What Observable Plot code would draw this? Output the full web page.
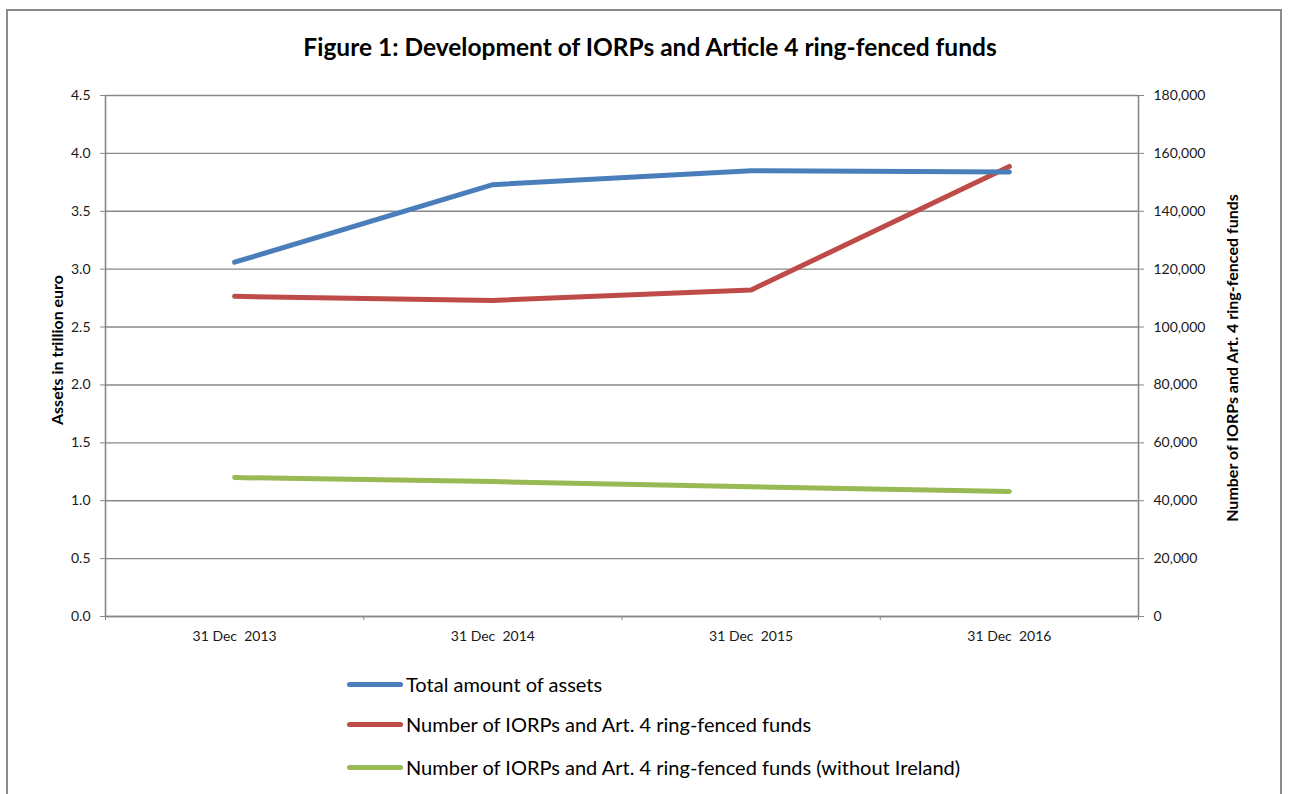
<!DOCTYPE html>
<html>
<head>
<meta charset="utf-8">
<script src="https://cdn.jsdelivr.net/npm/d3@7"></script>
<script src="https://cdn.jsdelivr.net/npm/@observablehq/plot@0.6"></script>
<style>
  html, body { margin: 0; padding: 0; background: #fff; }
  body { font-family: Lato, "Open Sans", sans-serif; }
  #wrap { position: relative; width: 1290px; height: 794px; overflow: hidden; }
  #frame { position: absolute; left: 6px; top: 9px; width: 1276px; height: 800px; border: 2px solid #8c8c8c; box-sizing: border-box; }
  #title { position: absolute; left: 0; top: 32px; width: 1300px; text-align: center; font-weight: bold; font-size: 24.5px; line-height: 30px; color: #000; }
  #chart { position: absolute; left: 0; top: 0; }
  .ylab { position: absolute; font-weight: bold; font-size: 16px; white-space: nowrap; transform: translate(-50%, -50%) rotate(-90deg); color: #000; }
  .leg { position: absolute; left: 347px; height: 24px; display: flex; align-items: center; font-size: 20px; color: #000; white-space: nowrap; }
  .sw { width: 56px; height: 5px; border-radius: 3px; margin-right: 3px; }
</style>
</head>
<body>
<div id="wrap">
  <div id="frame"></div>
  <div id="title">Figure 1: Development of IORPs and Article 4 ring-fenced funds</div>
  <div id="chart"></div>
  <div class="ylab" style="left:56px; top:350px;">Assets in trillion euro</div>
  <div class="ylab" style="left:1231px; top:358px;">Number of IORPs and Art. 4 ring-fenced funds</div>
  <div id="legend"></div>
</div>
<script>
// ---- data ----
const dates = ["31 Dec  2013", "31 Dec  2014", "31 Dec  2015", "31 Dec  2016"];
const totalAssets = [3.06, 3.73, 3.85, 3.84];              // trillion euro (left axis)
const numberIORPs = [110600, 109200, 112800, 155500];       // right axis
const numberIORPsNoIreland = [48000, 46600, 44800, 43200];  // right axis
const leftTicks = [0, 0.5, 1, 1.5, 2, 2.5, 3, 3.5, 4, 4.5];
const rightTicks = [0, 20000, 40000, 60000, 80000, 100000, 120000, 140000, 160000, 180000];
const seriesNames = [
  "Total amount of assets",
  "Number of IORPs and Art. 4 ring-fenced funds",
  "Number of IORPs and Art. 4 ring-fenced funds (without Ireland)"
];
const colors = ["#4A7EBB", "#BE4B48", "#98B954"];

// ratio between right and left axis
const ratio = 40000;
const idx = dates.map((d, i) => i);
const boundaries = [-0.5, 0.5, 1.5, 2.5, 3.5];

const rowsA = idx.map(i => ({i, v: totalAssets[i]}));
const rowsB = idx.map(i => ({i, v: numberIORPs[i] / ratio}));
const rowsC = idx.map(i => ({i, v: numberIORPsNoIreland[i] / ratio}));

const gray = "#878787";
const plot = Plot.plot({
  width: 1290,
  height: 660,
  marginTop: 95,
  marginBottom: 44,
  marginLeft: 105,
  marginRight: 152,
  style: {fontFamily: "Lato, 'Open Sans', sans-serif", fontSize: "14px", color: "#1a1a1a", background: "transparent"},
  x: {type: "linear", domain: [-0.5, 3.5]},
  y: {domain: [0, 4.5]},
  marks: [
    Plot.gridY(leftTicks, {stroke: gray, strokeOpacity: 1, strokeWidth: 1.4}),
    Plot.ruleX([-0.5, 3.5], {stroke: gray, strokeWidth: 1.6}),
    Plot.ruleY([0], {stroke: gray, strokeWidth: 1.6}),
    Plot.axisY(leftTicks, {anchor: "left", tickFormat: d3.format(".1f"), tickSize: 5, tickPadding: 10, stroke: gray, strokeOpacity: 1, label: null, fontSize: 14}),
    Plot.axisY(rightTicks.map(t => t / ratio), {anchor: "right", tickFormat: d => d3.format(",")(Math.round(d * ratio)), tickSize: 5, tickPadding: 10, stroke: gray, strokeOpacity: 1, label: null, fontSize: 14, textAnchor: "start"}),
    Plot.axisX(boundaries, {anchor: "bottom", tickSize: 4, tickFormat: () => "", stroke: gray, strokeOpacity: 1, label: null}),
    Plot.axisX(idx, {anchor: "bottom", tickSize: 0, tickPadding: 15, tickFormat: i => dates[i], label: null, fontSize: 14}),
    Plot.lineY(rowsC, {x: "i", y: "v", stroke: colors[2], strokeWidth: 5, strokeLinecap: "round", strokeLinejoin: "round"}),
    Plot.lineY(rowsB, {x: "i", y: "v", stroke: colors[1], strokeWidth: 5, strokeLinecap: "round", strokeLinejoin: "round"}),
    Plot.lineY(rowsA, {x: "i", y: "v", stroke: colors[0], strokeWidth: 5, strokeLinecap: "round", strokeLinejoin: "round"})
  ]
});
document.getElementById("chart").appendChild(plot);

// legend
const legTops = [672, 712, 755];
const legend = document.getElementById("legend");
seriesNames.forEach((name, k) => {
  const row = document.createElement("div");
  row.className = "leg";
  row.style.top = legTops[k] + "px";
  const sw = document.createElement("div");
  sw.className = "sw";
  sw.style.background = colors[k];
  row.appendChild(sw);
  const t = document.createElement("span");
  t.textContent = name;
  row.appendChild(t);
  legend.appendChild(row);
});
</script>
</body>
</html>
